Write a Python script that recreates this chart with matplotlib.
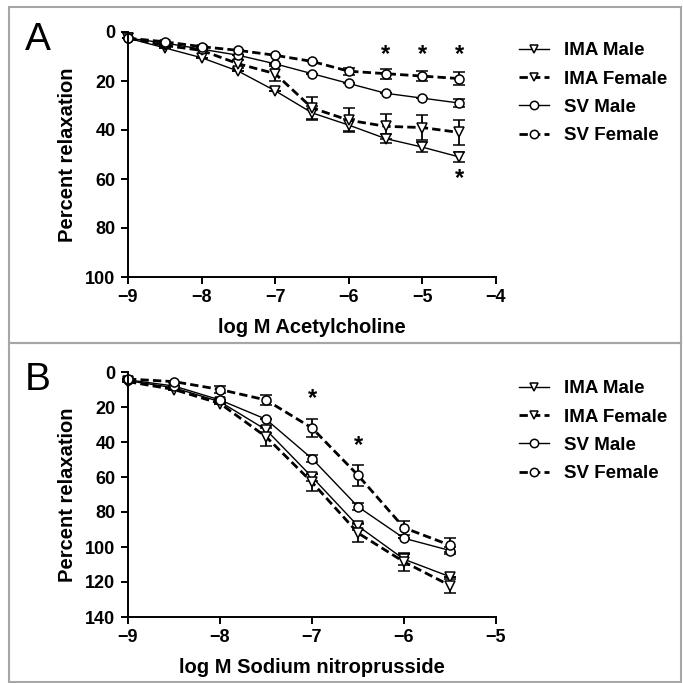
import matplotlib
matplotlib.use('Agg')
from matplotlib import pyplot as plt
from matplotlib.patches import Rectangle
from matplotlib.lines import Line2D

# acetylcholine (panel A)
ach_x = [-9, -8.5, -8, -7.5, -7, -6.5, -6, -5.5, -5, -4.5]
ach_ima_male = [2.5, 6.5, 10.5, 16, 24, 33, 38, 43.5, 47, 51]
ach_ima_male_err = [0, 0, 0, 0, 0, 3, 2.5, 2, 2, 2]
ach_ima_female = [2.5, 5.5, 7.5, 13, 17, 31, 36, 38.5, 39, 41]
ach_ima_female_err = [0, 0, 0, 1.5, 3, 4.5, 5, 5, 5, 5]
ach_sv_male = [2.5, 4.5, 7, 9.5, 13, 17, 21, 25, 27, 29]
ach_sv_male_err = [0, 0, 0, 0, 0, 0, 0, 0, 0, 1.5]
ach_sv_female = [2.5, 4, 6, 7.5, 9.5, 12, 16, 17, 18, 19]
ach_sv_female_err = [0, 0, 0, 0, 0, 0, 1.5, 2, 2, 2.5]
ach_star_x = [-5.5, -5, -4.5, -4.5]
ach_star_y = [9, 9, 9, 60]

# sodium nitroprusside (panel B)
snp_x = [-9, -8.5, -8, -7.5, -7, -6.5, -6, -5.5]
snp_ima_male = [5, 9, 17, 33, 60, 88, 107, 117]
snp_ima_male_err = [0, 0, 0, 2, 2, 2, 3, 0]
snp_ima_female = [5.5, 10, 18, 37, 63, 92, 108.5, 122]
snp_ima_female_err = [0, 0, 0, 5, 5, 5, 5, 4]
snp_sv_male = [4.5, 8, 16, 27, 49.5, 77, 95, 102]
snp_sv_male_err = [0, 0, 0, 0, 2, 2, 0, 2]
snp_sv_female = [4, 5.5, 10, 16, 32, 59, 89, 99]
snp_sv_female_err = [0, 0, 2, 3, 5, 6, 4, 4]
snp_star_x = [-7, -6.5]
snp_star_y = [15, 42]

labels = ['IMA Male', 'IMA Female', 'SV Male', 'SV Female']

FAM = ['Liberation Sans', 'DejaVu Sans']
plt.rcParams['font.family'] = FAM
plt.rcParams['font.weight'] = 'bold'

styles = [
    dict(marker='v', ls='-', lw=1.0),
    dict(marker='v', ls=(0, (3, 1.5)), lw=2.0),
    dict(marker='o', ls='-', lw=1.0),
    dict(marker='o', ls=(0, (3, 1.5)), lw=2.0),
]

fig = plt.figure(figsize=(6.83, 6.83), dpi=100)
W = 683.0


def frac_box(x0, y0, x1, y1):
    return [x0 / W, 1 - y1 / W, (x1 - x0) / W, (y1 - y0) / W]


def draw_panel(ax, x, series, errs, stars_x, stars_y, xlim, ylim, yticks, xlabel):
    for y, e, st in zip(series, errs, styles):
        ax.errorbar(x, y, yerr=e, color='black', marker=st['marker'],
                    ls=st['ls'], lw=st['lw'], ms=6.5, mfc='white',
                    mec='black', mew=1.1, capsize=4, elinewidth=1.3,
                    capthick=1.3, clip_on=False)
    for sx, sy in zip(stars_x, stars_y):
        ax.text(sx, sy, '*', ha='center', va='center', fontsize=17,
                fontweight='bold')
    ax.set_xlim(*xlim)
    ax.set_ylim(ylim[1], ylim[0])
    ax.set_yticks(yticks)
    ax.set_xticks(range(xlim[0], xlim[1] + 1))
    ax.spines['top'].set_visible(False)
    ax.spines['right'].set_visible(False)
    for s in ('left', 'bottom'):
        ax.spines[s].set_linewidth(1.4)
    ax.tick_params(direction='out', length=5, width=1.4, labelsize=13, pad=4)
    ax.set_xlabel(xlabel, fontsize=14.5, fontweight='bold', labelpad=8)
    ax.set_ylabel('Percent relaxation', fontsize=14.5, fontweight='bold', labelpad=6)


# panel frames
for y0, y1 in [(7, 343), (343, 682)]:
    fig.patches.append(Rectangle((9 / W, 1 - y1 / W), (681 - 9) / W, (y1 - y0) / W,
                                 transform=fig.transFigure, fill=False,
                                 edgecolor='#a6a6a6', lw=1.5))

axA = fig.add_axes(frac_box(128, 32, 496, 277))
draw_panel(axA, ach_x,
           [ach_ima_male, ach_ima_female, ach_sv_male, ach_sv_female],
           [ach_ima_male_err, ach_ima_female_err, ach_sv_male_err, ach_sv_female_err],
           ach_star_x, ach_star_y, (-9, -4), (0, 100), [0, 20, 40, 60, 80, 100],
           'log M Acetylcholine')

axB = fig.add_axes(frac_box(128, 372, 496, 617))
draw_panel(axB, snp_x,
           [snp_ima_male, snp_ima_female, snp_sv_male, snp_sv_female],
           [snp_ima_male_err, snp_ima_female_err, snp_sv_male_err, snp_sv_female_err],
           snp_star_x, snp_star_y, (-9, -5), (0, 140), list(range(0, 141, 20)),
           'log M Sodium nitroprusside')

handles = [Line2D([], [], color='black', marker=st['marker'], ls=st['ls'],
                  lw=st['lw'], ms=6, mfc='white', mec='black', mew=1.1)
           for st in styles]

for ax, ytop in [(axA, 42), (axB, 380)]:
    ax.legend(handles, labels, loc='upper left', bbox_to_anchor=(519 / W, 1 - ytop / W),
              bbox_transform=fig.transFigure, frameon=False,
              prop=dict(family=FAM, weight='bold', size=13.5),
              handlelength=1.6, handletextpad=0.8, labelspacing=0.6,
              borderaxespad=0, borderpad=0)

fig.text(25 / W, 1 - 40 / W, 'A', fontsize=28, fontweight='normal', va='center',
         ha='left')
fig.text(25 / W, 1 - 380 / W, 'B', fontsize=28, fontweight='normal', va='center',
         ha='left')

fig.savefig('out.png', dpi=100)
